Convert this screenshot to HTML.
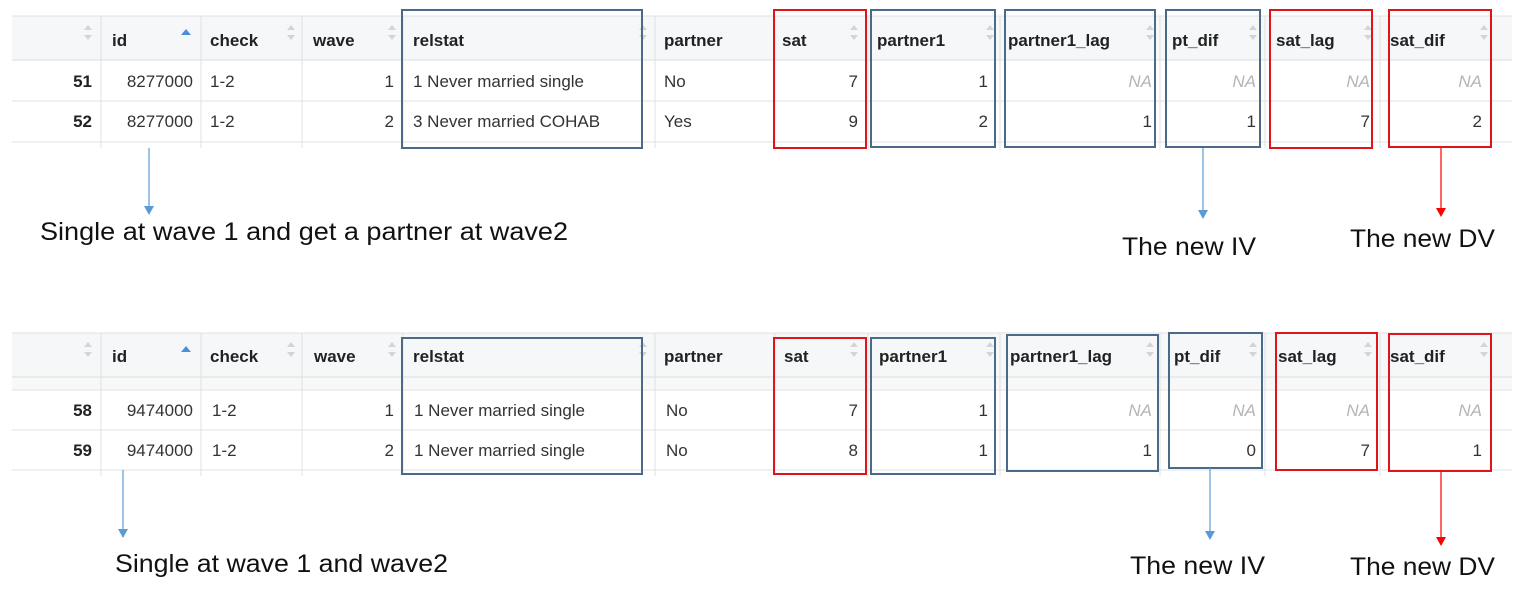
<!DOCTYPE html>
<html><head><meta charset="utf-8"><style>
html,body{margin:0;padding:0;background:#fff;}
svg{display:block;}
.h{font:bold 17px "Liberation Sans Narrow","Liberation Sans",sans-serif;fill:#222;}
.c{font:17px "Liberation Sans Narrow","Liberation Sans",sans-serif;fill:#333;}
.b{font:bold 17px "Liberation Sans Narrow","Liberation Sans",sans-serif;fill:#222;}
.na{font:italic 17px "Liberation Sans Narrow","Liberation Sans",sans-serif;fill:#b5b5b5;}
.lab{font:25px "Liberation Sans",sans-serif;fill:#111;}
</style></head><body>
<svg width="1522" height="591" viewBox="0 0 1522 591" xmlns="http://www.w3.org/2000/svg">
<defs>
<g id="srt"><path d="M-4,-3 L0,-8 L4,-3Z M-4,2 L0,7 L4,2Z" fill="#d4d4d4"/></g>
</defs>

<!-- ============ TABLE 1 ============ -->
<rect x="12" y="16" width="1500" height="44" fill="#f6f7f8"/>
<line x1="12" y1="16" x2="1512" y2="16" stroke="#e2e2e2"/>
<line x1="12" y1="60" x2="1512" y2="60" stroke="#dcdcdc"/>
<line x1="12" y1="101" x2="1512" y2="101" stroke="#e2e2e2"/>
<line x1="12" y1="142" x2="1512" y2="142" stroke="#e2e2e2"/>
<g stroke="#e0e0e0">
<line x1="101" y1="16" x2="101" y2="148"/><line x1="201" y1="16" x2="201" y2="148"/>
<line x1="302" y1="16" x2="302" y2="148"/><line x1="403" y1="16" x2="403" y2="148"/>
<line x1="655" y1="16" x2="655" y2="148"/><line x1="775" y1="16" x2="775" y2="148"/>
<line x1="868" y1="16" x2="868" y2="148"/><line x1="1000" y1="16" x2="1000" y2="148"/>
<line x1="1160" y1="16" x2="1160" y2="148"/><line x1="1265" y1="16" x2="1265" y2="148"/>
<line x1="1380" y1="16" x2="1380" y2="148"/>
</g>
<use href="#srt" x="88" y="33"/>
<path d="M181,35 L186,29 L191,35Z" fill="#4a90d9"/>
<use href="#srt" x="291" y="33"/><use href="#srt" x="392" y="33"/><use href="#srt" x="643" y="33"/>
<use href="#srt" x="854" y="33"/><use href="#srt" x="990" y="33"/><use href="#srt" x="1150" y="33"/>
<use href="#srt" x="1253" y="33"/><use href="#srt" x="1368" y="33"/><use href="#srt" x="1484" y="33"/>
<text class="h" x="112" y="46">id</text><text class="h" x="210" y="46">check</text>
<text class="h" x="313" y="46">wave</text><text class="h" x="413" y="46">relstat</text>
<text class="h" x="664" y="46">partner</text><text class="h" x="782" y="46">sat</text>
<text class="h" x="877" y="46">partner1</text><text class="h" x="1008" y="46">partner1_lag</text>
<text class="h" x="1172" y="46">pt_dif</text><text class="h" x="1276" y="46">sat_lag</text>
<text class="h" x="1390" y="46">sat_dif</text>

<text class="b" x="92" y="87" text-anchor="end">51</text>
<text class="c" x="193" y="87" text-anchor="end">8277000</text>
<text class="c" x="210" y="87">1-2</text>
<text class="c" x="394" y="87" text-anchor="end">1</text>
<text class="c" x="413" y="87">1 Never married single</text>
<text class="c" x="664" y="87">No</text>
<text class="c" x="858" y="87" text-anchor="end">7</text>
<text class="c" x="988" y="87" text-anchor="end">1</text>
<text class="na" x="1152" y="87" text-anchor="end">NA</text>
<text class="na" x="1256" y="87" text-anchor="end">NA</text>
<text class="na" x="1370" y="87" text-anchor="end">NA</text>
<text class="na" x="1482" y="87" text-anchor="end">NA</text>

<text class="b" x="92" y="127" text-anchor="end">52</text>
<text class="c" x="193" y="127" text-anchor="end">8277000</text>
<text class="c" x="210" y="127">1-2</text>
<text class="c" x="394" y="127" text-anchor="end">2</text>
<text class="c" x="413" y="127">3 Never married COHAB</text>
<text class="c" x="664" y="127">Yes</text>
<text class="c" x="858" y="127" text-anchor="end">9</text>
<text class="c" x="988" y="127" text-anchor="end">2</text>
<text class="c" x="1152" y="127" text-anchor="end">1</text>
<text class="c" x="1256" y="127" text-anchor="end">1</text>
<text class="c" x="1370" y="127" text-anchor="end">7</text>
<text class="c" x="1482" y="127" text-anchor="end">2</text>

<g fill="none" stroke-width="2">
<rect x="402" y="10" width="240" height="138" stroke="#4a6a8a"/>
<rect x="774" y="10" width="92" height="138" stroke="#e0141b"/>
<rect x="871" y="10" width="124" height="137" stroke="#4a6a8a"/>
<rect x="1005" y="10" width="150" height="137" stroke="#4a6a8a"/>
<rect x="1166" y="10" width="94" height="137" stroke="#4a6a8a"/>
<rect x="1270" y="10" width="102" height="138" stroke="#e0141b"/>
<rect x="1389" y="10" width="102" height="137" stroke="#e0141b"/>
</g>

<line x1="149" y1="148" x2="149" y2="206" stroke="#5b9bd5" stroke-width="1.2"/>
<path d="M144,206 L154,206 L149,215Z" fill="#5b9bd5"/>
<line x1="1203" y1="148" x2="1203" y2="210" stroke="#5b9bd5" stroke-width="1.2"/>
<path d="M1198,210 L1208,210 L1203,219Z" fill="#5b9bd5"/>
<line x1="1441" y1="148" x2="1441" y2="208" stroke="#f00" stroke-width="1.2"/>
<path d="M1436,208 L1446,208 L1441,217Z" fill="#f00"/>

<text class="lab" x="40" y="240" textLength="528" lengthAdjust="spacingAndGlyphs">Single at wave 1 and get a partner at wave2</text>
<text class="lab" x="1122" y="255" textLength="134" lengthAdjust="spacingAndGlyphs">The new IV</text>
<text class="lab" x="1350" y="247" textLength="145" lengthAdjust="spacingAndGlyphs">The new DV</text>

<!-- ============ TABLE 2 ============ -->
<rect x="12" y="333" width="1500" height="44" fill="#f6f7f8"/>
<rect x="12" y="377" width="1500" height="13" fill="#f8f8f8"/>
<line x1="12" y1="333" x2="1512" y2="333" stroke="#e2e2e2"/>
<line x1="12" y1="377" x2="1512" y2="377" stroke="#dcdcdc"/>
<line x1="12" y1="390" x2="1512" y2="390" stroke="#e2e2e2"/>
<line x1="12" y1="430" x2="1512" y2="430" stroke="#e2e2e2"/>
<line x1="12" y1="470" x2="1512" y2="470" stroke="#e2e2e2"/>
<g stroke="#e0e0e0">
<line x1="101" y1="333" x2="101" y2="476"/><line x1="201" y1="333" x2="201" y2="476"/>
<line x1="302" y1="333" x2="302" y2="476"/><line x1="403" y1="333" x2="403" y2="476"/>
<line x1="655" y1="333" x2="655" y2="476"/><line x1="775" y1="333" x2="775" y2="476"/>
<line x1="868" y1="333" x2="868" y2="476"/><line x1="1000" y1="333" x2="1000" y2="476"/>
<line x1="1160" y1="333" x2="1160" y2="476"/><line x1="1265" y1="333" x2="1265" y2="476"/>
<line x1="1380" y1="333" x2="1380" y2="476"/>
</g>
<use href="#srt" x="88" y="350"/>
<path d="M181,352 L186,346 L191,352Z" fill="#4a90d9"/>
<use href="#srt" x="291" y="350"/><use href="#srt" x="392" y="350"/><use href="#srt" x="643" y="350"/>
<use href="#srt" x="854" y="350"/><use href="#srt" x="990" y="350"/><use href="#srt" x="1150" y="350"/>
<use href="#srt" x="1253" y="350"/><use href="#srt" x="1368" y="350"/><use href="#srt" x="1484" y="350"/>
<text class="h" x="112" y="362">id</text><text class="h" x="210" y="362">check</text>
<text class="h" x="314" y="362">wave</text><text class="h" x="413" y="362">relstat</text>
<text class="h" x="664" y="362">partner</text><text class="h" x="784" y="362">sat</text>
<text class="h" x="879" y="362">partner1</text><text class="h" x="1010" y="362">partner1_lag</text>
<text class="h" x="1174" y="362">pt_dif</text><text class="h" x="1278" y="362">sat_lag</text>
<text class="h" x="1390" y="362">sat_dif</text>

<text class="b" x="92" y="416" text-anchor="end">58</text>
<text class="c" x="193" y="416" text-anchor="end">9474000</text>
<text class="c" x="212" y="416">1-2</text>
<text class="c" x="394" y="416" text-anchor="end">1</text>
<text class="c" x="414" y="416">1 Never married single</text>
<text class="c" x="666" y="416">No</text>
<text class="c" x="858" y="416" text-anchor="end">7</text>
<text class="c" x="988" y="416" text-anchor="end">1</text>
<text class="na" x="1152" y="416" text-anchor="end">NA</text>
<text class="na" x="1256" y="416" text-anchor="end">NA</text>
<text class="na" x="1370" y="416" text-anchor="end">NA</text>
<text class="na" x="1482" y="416" text-anchor="end">NA</text>

<text class="b" x="92" y="456" text-anchor="end">59</text>
<text class="c" x="193" y="456" text-anchor="end">9474000</text>
<text class="c" x="212" y="456">1-2</text>
<text class="c" x="394" y="456" text-anchor="end">2</text>
<text class="c" x="414" y="456">1 Never married single</text>
<text class="c" x="666" y="456">No</text>
<text class="c" x="858" y="456" text-anchor="end">8</text>
<text class="c" x="988" y="456" text-anchor="end">1</text>
<text class="c" x="1152" y="456" text-anchor="end">1</text>
<text class="c" x="1256" y="456" text-anchor="end">0</text>
<text class="c" x="1370" y="456" text-anchor="end">7</text>
<text class="c" x="1482" y="456" text-anchor="end">1</text>

<g fill="none" stroke-width="2">
<rect x="402" y="338" width="240" height="136" stroke="#4a6a8a"/>
<rect x="774" y="338" width="92" height="136" stroke="#e0141b"/>
<rect x="871" y="338" width="124" height="136" stroke="#4a6a8a"/>
<rect x="1007" y="335" width="151" height="136" stroke="#4a6a8a"/>
<rect x="1169" y="333" width="93" height="135" stroke="#4a6a8a"/>
<rect x="1276" y="333" width="101" height="137" stroke="#e0141b"/>
<rect x="1389" y="334" width="102" height="137" stroke="#e0141b"/>
</g>

<line x1="123" y1="470" x2="123" y2="529" stroke="#5b9bd5" stroke-width="1.2"/>
<path d="M118,529 L128,529 L123,538Z" fill="#5b9bd5"/>
<line x1="1210" y1="468" x2="1210" y2="531" stroke="#5b9bd5" stroke-width="1.2"/>
<path d="M1205,531 L1215,531 L1210,540Z" fill="#5b9bd5"/>
<line x1="1441" y1="471" x2="1441" y2="537" stroke="#f00" stroke-width="1.2"/>
<path d="M1436,537 L1446,537 L1441,546Z" fill="#f00"/>

<text class="lab" x="115" y="572" textLength="333" lengthAdjust="spacingAndGlyphs">Single at wave 1 and wave2</text>
<text class="lab" x="1130" y="574" textLength="135" lengthAdjust="spacingAndGlyphs">The new IV</text>
<text class="lab" x="1350" y="575" textLength="145" lengthAdjust="spacingAndGlyphs">The new DV</text>
</svg>
</body></html>
